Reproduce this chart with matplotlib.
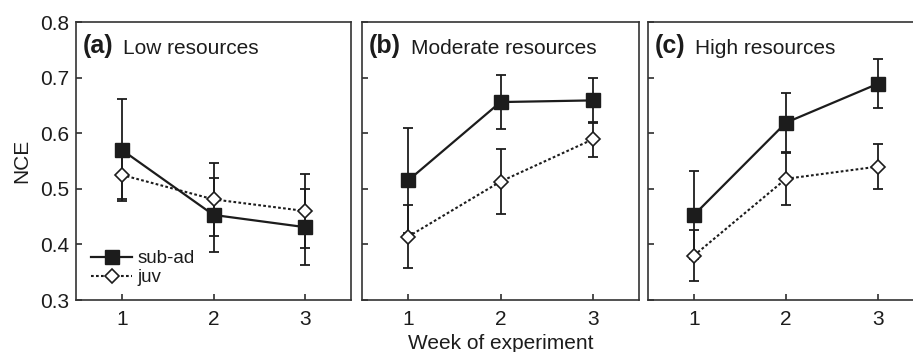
import numpy as np
import matplotlib
matplotlib.use("Agg")
import matplotlib.pyplot as plt

plt.rcParams['font.family'] = ['Liberation Sans', 'DejaVu Sans']

# ---------------------
# DATA
# ---------------------
weeks = [1, 2, 3]
panel_tags = ["(a)", "(b)", "(c)"]
panel_names = ["Low resources", "Moderate resources", "High resources"]

sub_low = [0.570, 0.453, 0.431]
sub_low_err = [0.092, 0.066, 0.068]
juv_low = [0.525, 0.481, 0.460]
juv_low_err = [0.043, 0.066, 0.066]

sub_mod = [0.515, 0.656, 0.659]
sub_mod_err = [0.094, 0.049, 0.040]
juv_mod = [0.414, 0.513, 0.589]
juv_mod_err = [0.056, 0.059, 0.031]

sub_high = [0.453, 0.619, 0.689]
sub_high_err = [0.079, 0.053, 0.044]
juv_high = [0.380, 0.518, 0.540]
juv_high_err = [0.046, 0.047, 0.041]

sub_sets = [(sub_low, sub_low_err), (sub_mod, sub_mod_err), (sub_high, sub_high_err)]
juv_sets = [(juv_low, juv_low_err), (juv_mod, juv_mod_err), (juv_high, juv_high_err)]

# ---------------------
# LAYOUT
# ---------------------
W, H = 913, 352
fig = plt.figure(figsize=(W / 100, H / 100), dpi=100)
ink = "#1c1c1c"
lefts = [76, 362, 648]
widths = [275, 277, 276]
bottom, height = 52, 278

axes = []
for i in range(3):
    ax = fig.add_axes([lefts[i] / W, bottom / H, widths[i] / W, height / H])
    axes.append(ax)

for i, ax in enumerate(axes):
    sy, se = sub_sets[i]
    jy, je = juv_sets[i]

    ax.errorbar(weeks, jy, yerr=je, fmt='none', ecolor=ink, elinewidth=1.3,
                capsize=3.4, capthick=1.3, zorder=2)
    ax.errorbar(weeks, sy, yerr=se, fmt='none', ecolor=ink, elinewidth=1.3,
                capsize=3.4, capthick=1.3, zorder=2)
    l_juv, = ax.plot(weeks, jy, linestyle=(0, (1.3, 1.1)), color=ink, lw=1.5,
                     marker='D', ms=6.8, mfc='white', mec=ink, mew=1.2,
                     label='juv', zorder=3)
    l_sub, = ax.plot(weeks, sy, linestyle='-', color=ink, lw=1.6,
                     marker='s', ms=10.5, mfc=ink, mec=ink,
                     label='sub-ad', zorder=4)

    ax.set_xlim(0.5, 3.5)
    ax.set_ylim(0.3, 0.8)
    ax.set_xticks(weeks)
    ax.set_yticks(np.arange(0.3, 0.81, 0.1))
    ax.tick_params(direction='in', length=4, width=1.1, colors=ink,
                   labelsize=15, pad=5)
    ax.tick_params(axis='x', pad=7)
    if i == 0:
        ax.set_yticklabels([f"{v:.1f}" for v in np.arange(0.3, 0.81, 0.1)])
    else:
        ax.set_yticklabels([])
    for sp in ax.spines.values():
        sp.set_linewidth(1.2)
        sp.set_color("#333333")

    tag = ax.text(0.025, 0.888, panel_tags[i], transform=ax.transAxes,
                  fontsize=18, fontweight='bold', color=ink, va='baseline')
    ax.annotate(panel_names[i], xy=(1, 0), xycoords=tag, xytext=(7, 0),
                textcoords='offset points', va='bottom', ha='left',
                fontsize=15, color=ink)

    if i == 0:
        ax.legend(handles=[l_sub, l_juv], loc='lower left',
                  bbox_to_anchor=(0.055, 0.05), frameon=False, fontsize=13.5,
                  handlelength=2.2, handletextpad=0.25, labelspacing=0.1,
                  borderpad=0, borderaxespad=0, labelcolor=ink)

axes[0].set_ylabel("NCE", fontsize=15, color=ink, labelpad=6)
axes[1].set_xlabel("Week of experiment", fontsize=15, color=ink, labelpad=4)

fig.savefig("out.png", dpi=100)
